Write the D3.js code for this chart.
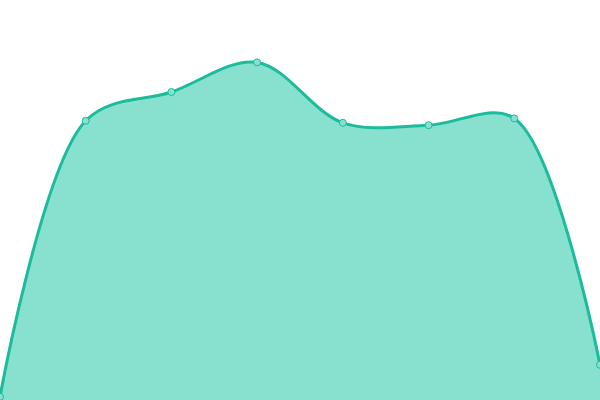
<!DOCTYPE html>
<html>
<head>
<meta charset="utf-8">
<script src="https://cdn.jsdelivr.net/npm/d3@7"></script>
<style>
  body { margin: 0; background: #fff; }
</style>
</head>
<body>
<div id="chart"></div>
<script>
var width = 600, height = 400;

// one series, 8 evenly spaced points
var labels = ["1", "2", "3", "4", "5", "6", "7", "8"];
var values = [0.8, 69.8, 77, 84.4, 69.3, 68.7, 70.4, 8.8];

var svg = d3.select("#chart").append("svg")
  .attr("width", width)
  .attr("height", height);

var xScale = d3.scalePoint()
  .domain(labels)
  .range([0, width]);

var yScale = d3.scaleLinear()
  .domain([0, 100])
  .range([height, 0]);

var area = d3.area()
  .x(function(d, i) { return xScale(labels[i]); })
  .y0(height)
  .y1(function(d) { return yScale(d); })
  .curve(d3.curveCatmullRom);

var line = d3.line()
  .x(function(d, i) { return xScale(labels[i]); })
  .y(function(d) { return yScale(d); })
  .curve(d3.curveCatmullRom);

svg.append("path")
  .datum(values)
  .attr("d", area)
  .attr("fill", "#88e0cf");

svg.append("path")
  .datum(values)
  .attr("d", line)
  .attr("fill", "none")
  .attr("stroke", "#1abc9c")
  .attr("stroke-width", 3);

svg.selectAll("circle")
  .data(values)
  .enter().append("circle")
  .attr("cx", function(d, i) { return xScale(labels[i]); })
  .attr("cy", function(d) { return yScale(d); })
  .attr("r", 3.5)
  .attr("fill", "#88e0cf")
  .attr("stroke", "#1abc9c")
  .attr("stroke-width", 1);
</script>
</body>
</html>
